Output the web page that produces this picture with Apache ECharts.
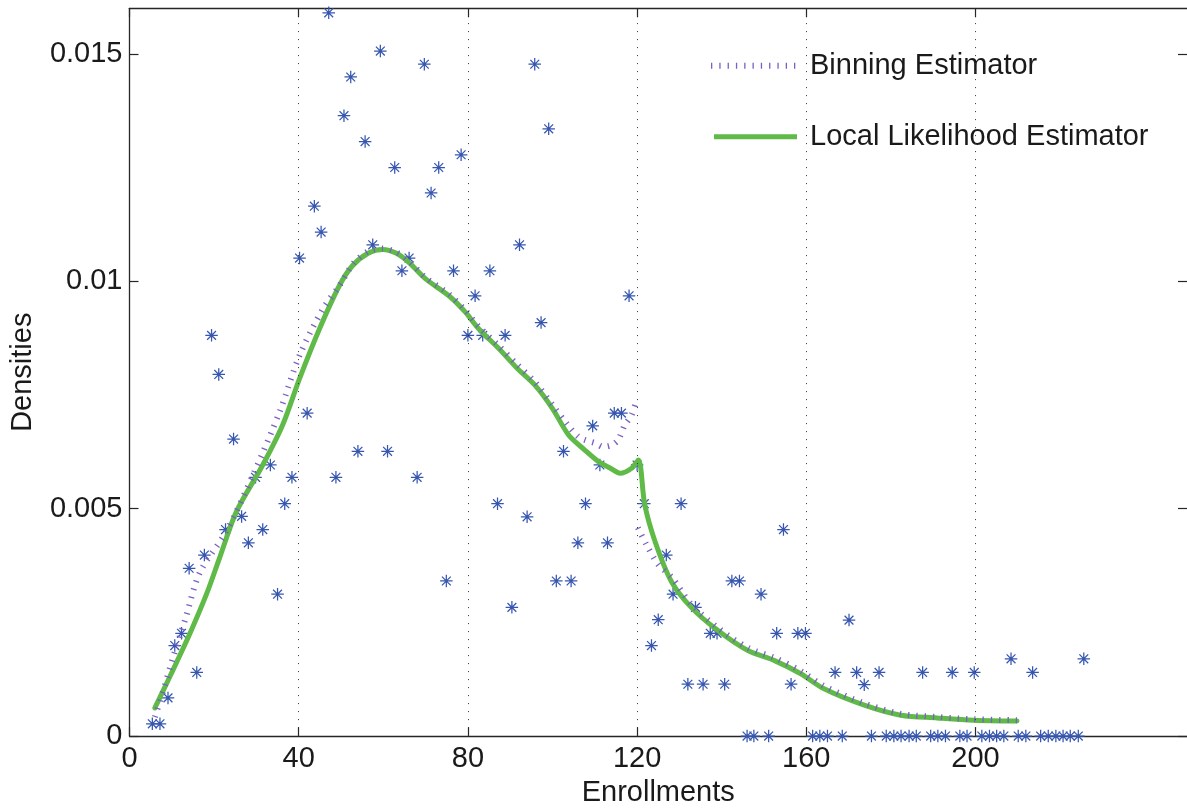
<!DOCTYPE html>
<html>
<head>
<meta charset="utf-8">
<script src="https://cdn.jsdelivr.net/npm/echarts@6/dist/echarts.min.js"></script>
<style>
html,body{margin:0;padding:0;background:#fff;}
#chart{width:1187px;height:812px;}
</style>
</head>
<body>
<div id="chart"></div>
<script>
// ---- data ----
var xTicks = [0, 40, 80, 120, 160, 200];
var yTicks = [0, 0.005, 0.01, 0.015];
var gridLinesX = [40, 80, 120, 160, 200];

var scatterX = [5.4,7.2,9.1,10.7,12.3,14.1,15.9,17.7,19.4,21.1,22.7,24.6,26.5,28.1,29.8,31.5,33.3,35,36.7,38.4,
  40.2,42,43.7,45.3,47.1,48.8,50.7,52.3,54,55.7,57.5,59.3,61,62.7,64.4,66.1,68,69.7,71.3,73.1,
  74.9,76.6,78.4,80,81.7,83.5,85.2,87,88.8,90.4,92.2,94,95.8,97.3,99.1,100.9,102.6,104.4,106,107.8,
  109.5,111.2,113,114.6,116.3,118.1,120,121.7,123.4,125,126.9,128.5,130.4,132,133.8,135.6,137.3,138.9,140.7,142.4,
  144.2,146,147.6,149.3,151.1,153,154.6,156.4,158,159.8,161.5,163.2,165,166.8,168.5,170.1,171.9,173.7,175.4,177.2,
  178.9,180.7,182.4,184.3,186,187.5,189.4,191.1,192.9,194.5,196.3,198,199.7,201.5,203.3,205,206.7,208.4,210.1,211.9,
  213.5,215.4,217.2,219,220.7,222.4,224.3,225.6];
var scatterY = [0.00027,0.00027,0.00084,0.00199,0.00226,0.00369,0.0014,0.00398,0.00881,0.00795,0.00454,0.00653,0.00483,0.00425,0.00569,0.00454,0.00596,0.00312,0.00511,0.00569,
  0.01051,0.0071,0.01165,0.01108,0.0159,0.00569,0.01364,0.01449,0.00626,0.01307,0.0108,0.01506,0.00626,0.0125,0.01023,0.01051,0.00569,0.01477,0.01194,0.0125,
  0.00341,0.01023,0.01278,0.00881,0.00968,0.00881,0.01023,0.00511,0.00881,0.00283,0.0108,0.00482,0.01477,0.00909,0.01335,0.00341,0.00626,0.00341,0.00425,0.00511,
  0.00682,0.00596,0.00425,0.0071,0.0071,0.00968,0.00596,0.00511,0.00199,0.00256,0.00398,0.00312,0.00511,0.00114,0.00283,0.00114,0.00226,0.00226,0.00114,0.00341,
  0.00341,0,0,0.00312,0,0.00226,0.00454,0.00114,0.00226,0.00226,0,0,0,0.0014,0,0.00255,0.0014,0.00113,0,0.0014,
  0,0,0,0,0,0.0014,0,0,0,0.0014,0,0,0.0014,0,0,0,0,0.0017,0,0,
  0.0014,0,0,0,0,0,0,0.0017];

// null marks the jump of the binning estimator at 120 (no line drawn across it)
var binX = [6.0,8.0,10.3,13.1,16.6,22.9,29.2,35.5,40.2,45.7,49.6,53,56.5,59.8,63,66.1,70,75.5,79.4,82.6,
  87.3,91.5,95.9,100,103.5,106.1,108,110.1,112,114,115.5,117.1,118.7,119.9,120.05,120.2,122.2,125,128.1,132.8,139.1,
  146.2,152.5,158.7,164.2,173.7,182.3,190.9,199.6,209.8];
var binY = [0.00042,0.001,0.00173,0.00254,0.00359,0.0045,0.00574,0.00713,0.00837,0.00939,0.0099,0.0104,0.01066,0.01072,0.01064,0.01044,0.01008,0.00972,0.00936,0.009,
  0.00858,0.00818,0.00778,0.00728,0.00685,0.00658,0.0065,0.00644,0.00636,0.0064,0.00651,0.00684,0.00706,0.0074,null,0.00458,0.00421,0.00377,0.0035,0.0029,0.00238,
  0.00194,0.00172,0.00143,0.0011,0.00072,0.00049,0.00042,0.00037,0.00035];

var llX = [6.0,9.5,14.2,18.2,21.3,25.3,31.5,36.2,40.2,44.9,49.6,52.7,56.5,59.8,63,66.1,70,75.5,79.4,82.6,
  87.3,91.5,95.9,100,103.8,107.5,110.8,113.5,116,118.7,120.3,121.8,124.2,128.1,132.8,139.1,146.2,152.5,158.7,164.2,
  173.7,182.3,190.9,199.6,209.8];
var llY = [0.00062,0.0013,0.00224,0.00312,0.00392,0.00494,0.00596,0.00684,0.00786,0.00895,0.0099,0.01034,0.01062,0.0107,0.01062,0.01041,0.01005,0.00968,0.00932,0.00895,
  0.00852,0.0081,0.00771,0.0072,0.00662,0.0063,0.00604,0.0059,0.00578,0.00589,0.00607,0.00509,0.00429,0.0034,0.00283,0.00232,0.00188,0.00166,0.00137,0.00104,
  0.00068,0.00046,0.0004,0.00035,0.00033];

var seriesNames = ['Binning Estimator', 'Local Likelihood Estimator'];
var xName = 'Enrollments';
var yName = 'Densities';

// ---- build ----
function zip(a, b) { var r = []; for (var i = 0; i < a.length; i++) r.push([a[i], b[i] === null ? '-' : b[i]]); return r; }

var FONT = '"Liberation Sans", Arial, Helvetica, sans-serif';
var FS = 29;
var AX = '#262626';
var TXT = '#1a1a1a';
var BIN_COLOR = '#7b60c4';
var LL_COLOR = '#5fba47';
var asterisk = 'path://M-0.6,-6 L0.6,-6 L0.6,6 L-0.6,6 Z M-6,-0.6 L6,-0.6 L6,0.6 L-6,0.6 Z ' +
  'M-4.66,-3.82 L-3.82,-4.66 L4.66,3.82 L3.82,4.66 Z M-3.82,4.66 L-4.66,3.82 L3.82,-4.66 L4.66,-3.82 Z';

var chart = echarts.init(document.getElementById('chart'), null, {renderer: 'canvas'});

function xAxisCfg(pos, showLabel) {
  return {
    type: 'value', min: 0, max: 250, position: pos,
    name: showLabel ? xName : '', nameLocation: 'middle', nameGap: 37,
    nameTextStyle: {fontSize: FS, color: TXT, fontFamily: FONT},
    axisLine: {show: true, onZero: false, lineStyle: {color: AX, width: 1.3}},
    axisTick: {show: true, inside: true, length: 9, customValues: xTicks, lineStyle: {color: AX, width: 1.2}},
    axisLabel: {show: showLabel, customValues: xTicks, fontSize: FS, color: TXT, fontFamily: FONT, margin: 8},
    splitLine: {show: false}
  };
}
function yAxisCfg(pos, showLabel) {
  return {
    type: 'value', min: 0, max: 0.016, position: pos,
    name: showLabel ? yName : '', nameLocation: 'middle', nameGap: 92,
    nameTextStyle: {fontSize: FS, color: TXT, fontFamily: FONT},
    axisLine: {show: showLabel, onZero: false, lineStyle: {color: AX, width: 1.3}},
    axisTick: {show: true, inside: true, length: 9, customValues: yTicks, lineStyle: {color: AX, width: 1.2}},
    axisLabel: {show: showLabel, customValues: yTicks, fontSize: FS, color: TXT, fontFamily: FONT, margin: 7,
      formatter: function (v) { return String(v); }},
    splitLine: {show: false}
  };
}

var option = {
  backgroundColor: '#ffffff',
  animation: false,
  grid: {left: 129.5, top: 8.3, width: 1061, height: 731, containLabel: false},
  xAxis: [xAxisCfg('bottom', true), xAxisCfg('top', false)],
  yAxis: [yAxisCfg('left', true), yAxisCfg('right', false)],
  legend: {
    show: true, orient: 'vertical', left: 711, top: 50, padding: 0,
    itemWidth: 86, itemHeight: 20, itemGap: 39,
    icon: 'rect', itemStyle: {opacity: 0}, lineStyle: {opacity: 0},
    data: seriesNames,
    textStyle: {fontSize: FS, color: TXT, fontFamily: FONT, lineHeight: 32, padding: [0, 0, 0, 8]}
  },
  graphic: [
    {type: 'line', silent: true, z: 100,
      shape: {x1: 711, y1: 65.7, x2: 797, y2: 65.7},
      style: {stroke: BIN_COLOR, lineWidth: 6, lineDash: [1.3, 7], lineCap: 'butt'}},
    {type: 'line', silent: true, z: 100,
      shape: {x1: 714, y1: 136.7, x2: 797, y2: 136.7},
      style: {stroke: LL_COLOR, lineWidth: 5, lineCap: 'butt'}}
  ],
  series: [
    {
      type: 'scatter', name: 'data', z: 2,
      data: zip(scatterX, scatterY),
      symbol: asterisk, symbolSize: 12.5,
      itemStyle: {color: '#3656b0', opacity: 1},
      markLine: {
        silent: true, symbol: 'none', label: {show: false},
        lineStyle: {color: '#333', width: 1, type: [1, 7]},
        data: gridLinesX.map(function (v) { return {xAxis: v}; })
      }
    },
    {
      type: 'line', name: seriesNames[1], z: 3,
      data: zip(llX, llY), smooth: 0.3, symbol: 'none', showSymbol: false,
      lineStyle: {color: LL_COLOR, width: 5, cap: 'round', join: 'round'},
      itemStyle: {color: LL_COLOR}
    },
    {
      type: 'line', name: seriesNames[0], z: 4,
      data: zip(binX, binY), smooth: 0.3, symbol: 'none', showSymbol: false, connectNulls: false,
      lineStyle: {color: BIN_COLOR, width: 6, type: [1.3, 7], cap: 'butt'},
      itemStyle: {color: BIN_COLOR}
    }
  ]
};
chart.setOption(option);
</script>
</body>
</html>
